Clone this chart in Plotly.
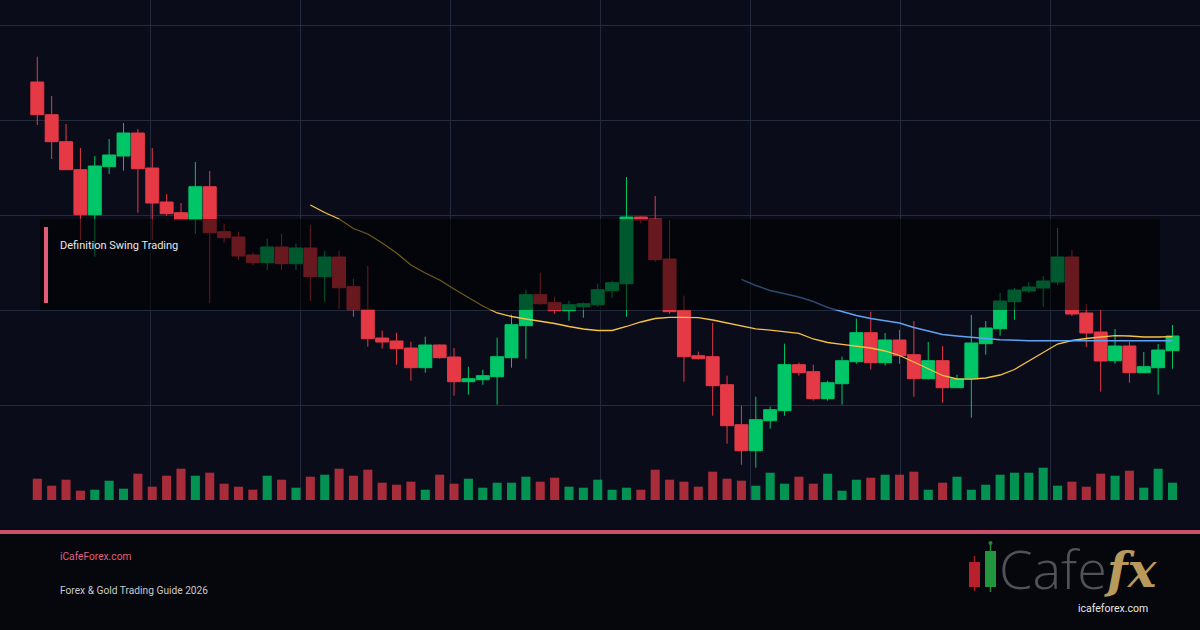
import plotly.graph_objects as go

# ---------------- data ----------------
opens = [2418, 2385.3, 2358.3, 2330.3, 2285.3, 2333.3, 2344, 2367, 2332, 2298, 2287.3, 2280.3, 2313.3, 2268.3, 2263, 2245, 2237.3, 2253, 2236.3, 2252,
         2223.3, 2243, 2213.3, 2190.3, 2162, 2159, 2152, 2132.3, 2155, 2143, 2118.3, 2120.3, 2123.3, 2142.3, 2174.3, 2205.3, 2197.3, 2189.3, 2193.3, 2195.3,
         2209.3, 2216.3, 2283, 2281, 2241, 2189.3, 2144.3, 2143.3, 2115.3, 2075.3, 2049.3, 2079.3, 2089.3, 2135.3, 2128.3, 2101.3, 2116.3, 2138.3, 2167.3, 2137.3,
         2160, 2145.3, 2121.3, 2139.3, 2112.3, 2121.3, 2156.3, 2171.3, 2198.3, 2209, 2212, 2218, 2243, 2187, 2168, 2139.3, 2154, 2127.3, 2132.3, 2149.3]
highs = [2443.3, 2404, 2376, 2352, 2344, 2361, 2377, 2371, 2352, 2306, 2297, 2338, 2329, 2276.3, 2268.3, 2247.3, 2261.3, 2266.3, 2256.3, 2275,
         2249.3, 2249.3, 2221.3, 2234, 2169.3, 2167.3, 2158.3, 2163.3, 2155.5, 2152, 2133.3, 2130.3, 2162.3, 2185.3, 2210.3, 2227.3, 2203.3, 2199.3, 2197.5, 2216.3,
         2219.3, 2323, 2283.5, 2304, 2280, 2204.3, 2148.3, 2177.3, 2124.3, 2094.3, 2103.3, 2093.3, 2156.3, 2137.3, 2135.3, 2119.3, 2143.3, 2181.3, 2188.3, 2167,
         2170, 2179, 2158, 2154, 2125.3, 2185, 2179, 2207, 2212, 2218, 2224, 2272, 2250, 2196, 2190, 2171, 2158, 2148, 2156, 2175]
lows = [2375, 2341, 2330, 2260, 2243.3, 2326, 2329.3, 2287.3, 2260, 2284.3, 2279.5, 2266.3, 2197, 2257.3, 2240, 2235, 2230, 2230, 2230, 2199.3,
        2198.3, 2191.3, 2183.3, 2153.3, 2151.3, 2135.3, 2119.3, 2127.3, 2141.3, 2104.3, 2105.3, 2115.3, 2095.3, 2132.3, 2141.3, 2195.3, 2186.3, 2179.3, 2182.3, 2193.3,
        2202.3, 2183.3, 2277, 2238.3, 2186.3, 2118.3, 2140.5, 2084.3, 2056.3, 2035.3, 2032.3, 2071.3, 2084.3, 2124.3, 2099.3, 2099.3, 2095.3, 2136.3, 2130.3, 2134.3,
        2136.3, 2103.3, 2120.3, 2097.3, 2112, 2082.3, 2145.3, 2164.3, 2180.3, 2207, 2193, 2215, 2184, 2153, 2108.3, 2136.3, 2117.3, 2127, 2105.3, 2131.3]
closes = [2385.3, 2358.3, 2330.3, 2285.3, 2334, 2345, 2367, 2331.3, 2297, 2286.3, 2280.3, 2313.3, 2267.3, 2262.3, 2244, 2237.3, 2253, 2236.3, 2252, 2223.3,
          2243, 2212.3, 2190.3, 2161.3, 2158, 2151.3, 2132.3, 2155, 2142.3, 2118.3, 2121.3, 2124.3, 2143.3, 2175.3, 2205.3, 2196.3, 2189.3, 2195.3, 2196.3, 2210.3,
          2217.3, 2283, 2280, 2240.3, 2188.3, 2143.3, 2141.3, 2114.3, 2074.3, 2049.3, 2080.3, 2090.3, 2135.3, 2127.3, 2101.3, 2117.3, 2139.3, 2167.3, 2137.3, 2160,
          2144.3, 2121.3, 2139.3, 2112.3, 2121.3, 2157, 2172, 2199, 2210, 2213, 2219, 2243, 2186, 2167, 2139, 2154, 2127.3, 2133.3, 2150, 2164]
volumes = [21300, 14300, 20300, 9300, 10300, 19300, 11300, 26300, 13300, 24300, 31300, 24300, 27300, 16300, 13300, 10300, 24300, 20300, 12300, 23300,
           25300, 31300, 24300, 30300, 17300, 15300, 18300, 10300, 25300, 16300, 21300, 12300, 17300, 17300, 23300, 18300, 22300, 13300, 12300, 20300,
           10300, 12300, 10300, 30300, 20300, 18300, 13300, 28300, 21300, 19300, 14300, 27300, 16300, 23300, 16300, 26300, 9300, 20300, 22300, 25300,
           25300, 28300, 10300, 17300, 23300, 10300, 15300, 25300, 27300, 27300, 32300, 14300, 18300, 13300, 26300, 24300, 29300, 12300, 31300, 17300]

ma20_start = 19
ma20 = [2295, 2287.5, 2281, 2271.5, 2266, 2257, 2247, 2235, 2227, 2220, 2211, 2202.5, 2194, 2187, 2183.5, 2181, 2179, 2176.5, 2173.5, 2171,
        2169.5, 2169.5, 2173.5, 2178, 2181.5, 2182.7, 2182.7, 2182.4, 2180, 2177, 2173.7, 2171.2, 2169.8, 2168.5, 2166.7, 2161, 2157.5, 2155.7, 2154, 2152,
        2149, 2144.5, 2138, 2131, 2124.5, 2121, 2120.8, 2122, 2125, 2130.5, 2138.7, 2147.5, 2156, 2159.5, 2161.5, 2163, 2164.3, 2164, 2163, 2163, 2163.3]
ma50_start = 49
ma50 = [2220.7, 2214.5, 2209.5, 2206, 2203, 2198.5, 2192.5, 2188.5, 2184.5, 2181.5, 2179.5, 2177, 2172.5, 2169, 2165.5, 2164, 2162.5, 2161.5, 2160.3, 2159.5,
        2159.3, 2159.2, 2159.2, 2159.3, 2159.3, 2159.2, 2159.2, 2159.3, 2159.3, 2159.3, 2159.3]

title_text = "Definition Swing Trading"
site_text = "iCafeForex.com"
guide_text = "Forex & Gold Trading Guide 2026"

# ---------------- style ----------------
W, H = 1200, 630
PLOT_H = 500
BG = "#0a0d19"
GRID = "#222a3c"
UP = "#00c667"
DOWN = "#e63946"
FONT = "Roboto"

idx = list(range(len(opens)))
vol_colors = [UP if c >= o else DOWN for o, c in zip(opens, closes)]

# x layout: candle 0 centred at 37.3 px, pitch 14.37 px
pitch = 14.37
x0 = -37.3 / pitch
x1 = x0 + W / pitch


def py(pix):
    """paper y for a pixel row (plot area spans rows 0..500)"""
    return (PLOT_H - pix) / PLOT_H


def px(pix):
    return pix / W


fig = go.Figure()

fig.add_trace(go.Bar(
    x=idx, y=volumes, yaxis="y2", width=0.63,
    marker=dict(color=vol_colors, line=dict(width=0)), opacity=0.72,
    hoverinfo="skip", showlegend=False,
))

fig.add_trace(go.Candlestick(
    x=idx, open=opens, high=highs, low=lows, close=closes,
    increasing=dict(line=dict(color=UP, width=1), fillcolor=UP),
    decreasing=dict(line=dict(color=DOWN, width=1), fillcolor=DOWN),
    whiskerwidth=0, hoverinfo="skip", showlegend=False,
))

fig.add_trace(go.Scatter(
    x=list(range(ma20_start, ma20_start + len(ma20))), y=ma20, mode="lines",
    line=dict(color="#f6c244", width=1.3), hoverinfo="skip", showlegend=False,
))
fig.add_trace(go.Scatter(
    x=list(range(ma50_start, ma50_start + len(ma50))), y=ma50, mode="lines",
    line=dict(color="#5fa3f5", width=1.4), hoverinfo="skip", showlegend=False,
))

shapes = [
    # footer background
    dict(type="rect", xref="paper", yref="paper", x0=0, x1=1, y0=py(630), y1=py(534),
         fillcolor="#06070c", line=dict(width=0), layer="below"),
    # pink separator
    dict(type="rect", xref="paper", yref="paper", x0=0, x1=1, y0=py(534), y1=py(530),
         fillcolor="#c9506b", line=dict(width=0), layer="above"),
    # dark label box
    dict(type="rect", xref="paper", yref="paper", x0=px(40), x1=px(1160), y0=py(310), y1=py(219),
         fillcolor="rgba(0,0,0,0.55)", line=dict(width=0), layer="above"),
    # pink accent bar
    dict(type="rect", xref="paper", yref="paper", x0=px(44), x1=px(48), y0=py(303), y1=py(227),
         fillcolor="#e25c78", line=dict(width=0), layer="above"),
    # logo candles
    dict(type="line", xref="paper", yref="paper", x0=px(974.5), x1=px(974.5), y0=py(591), y1=py(556),
         line=dict(color="#a11e28", width=1.5), layer="above"),
    dict(type="rect", xref="paper", yref="paper", x0=px(969), x1=px(980), y0=py(587), y1=py(562),
         fillcolor="#b8212c", line=dict(width=0), layer="above"),
    dict(type="line", xref="paper", yref="paper", x0=px(990.5), x1=px(990.5), y0=py(592), y1=py(544),
         line=dict(color="#1f8a3b", width=1.5), layer="above"),
    dict(type="rect", xref="paper", yref="paper", x0=px(985), x1=px(996), y0=py(587), y1=py(551),
         fillcolor="#22963f", line=dict(width=0), layer="above"),
    dict(type="circle", xref="paper", yref="paper", x0=px(988.5), x1=px(992.5), y0=py(545), y1=py(541),
         fillcolor="#1f8a3b", line=dict(width=0), layer="above"),
]

annotations = [
    dict(text=title_text, xref="paper", yref="paper", x=px(58), y=py(245), xanchor="left", yanchor="middle",
         showarrow=False, font=dict(family=FONT, size=11, color="#e8e8ec")),
    dict(text=site_text, xref="paper", yref="paper", x=px(58), y=py(556), xanchor="left", yanchor="middle",
         showarrow=False, font=dict(family=FONT, size=10.2, color="#e0607f")),
    dict(text=guide_text, xref="paper", yref="paper", x=px(58), y=py(590), xanchor="left", yanchor="middle",
         showarrow=False, font=dict(family=FONT, size=10.2, color="#c9c9cf")),
    dict(text="Cafe", xref="paper", yref="paper", x=px(997), y=py(568), xanchor="left", yanchor="middle",
         showarrow=False, font=dict(family="Open Sans", size=54, color="#4f5257", weight=300)),
    dict(text="<i><b>fx</b></i>", xref="paper", yref="paper", x=px(1102), y=py(570), xanchor="left", yanchor="middle",
         showarrow=False, font=dict(family="DejaVu Serif", size=48, color="#b89a5c")),
    dict(text="icafeforex.com", xref="paper", yref="paper", x=px(1113), y=py(608), xanchor="center", yanchor="middle",
         showarrow=False, font=dict(family=FONT, size=10.5, color="#e6e6e6")),
]

fig.update_layout(
    width=W, height=H,
    margin=dict(l=0, r=0, t=0, b=H - PLOT_H, pad=0),
    paper_bgcolor=BG, plot_bgcolor=BG,
    boxgap=0.1, boxgroupgap=0,
    showlegend=False,
    hovermode=False,
    xaxis=dict(range=[x0, x1], showticklabels=False, ticks="", showgrid=True, gridcolor=GRID, gridwidth=1,
               tick0=x0, dtick=150 / pitch, zeroline=False, showline=False, fixedrange=True,
               rangeslider=dict(visible=False)),
    yaxis=dict(range=[2000, 2500], showticklabels=False, ticks="", showgrid=True, gridcolor=GRID, gridwidth=1,
               tick0=2000, dtick=95, zeroline=False, showline=False, fixedrange=True),
    yaxis2=dict(range=[0, 500000], overlaying="y", visible=False, showgrid=False, fixedrange=True),
    shapes=shapes,
    annotations=annotations,
)

fig.write_html("out.html", config=dict(displayModeBar=False, staticPlot=True))
